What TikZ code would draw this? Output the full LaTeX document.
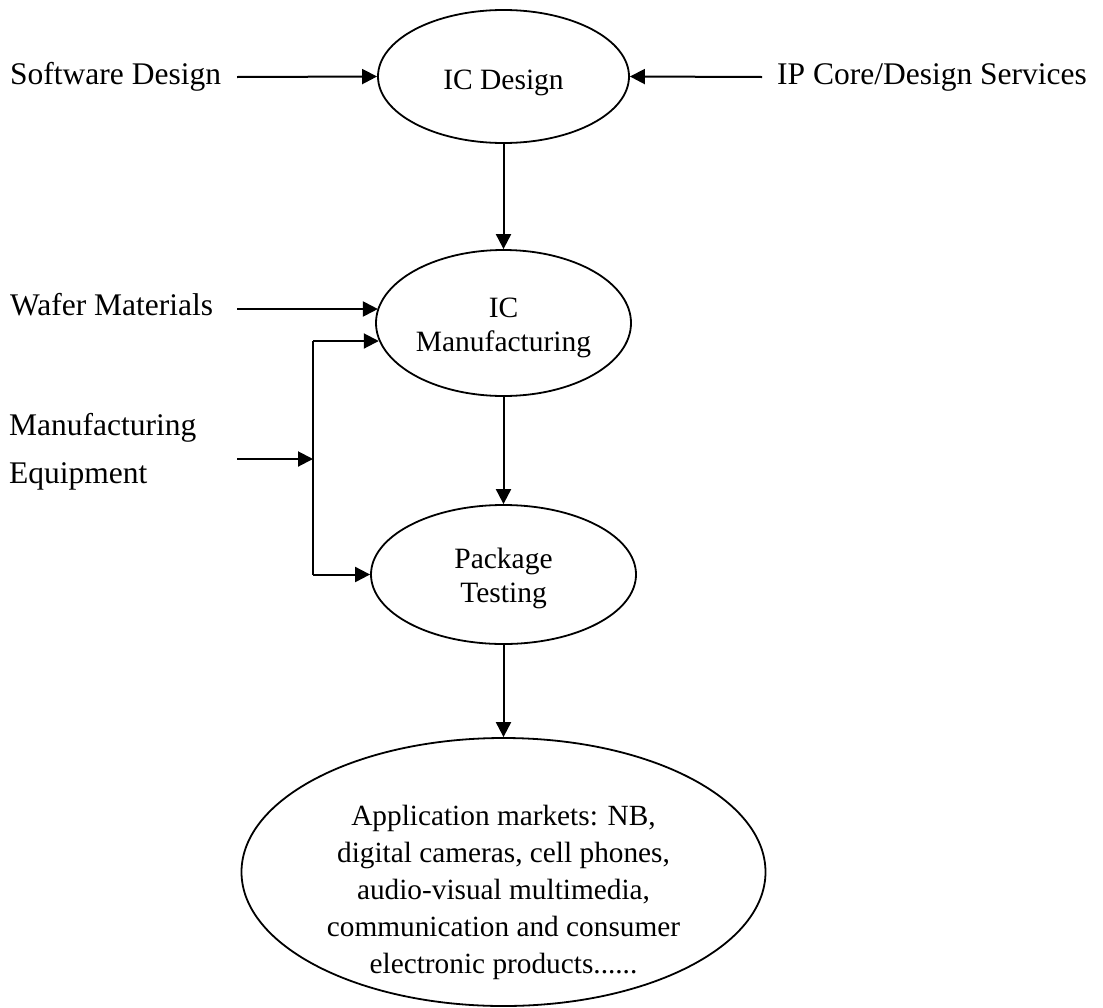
\documentclass[tikz,border=0pt]{standalone}
\usepackage{fontspec}
\setmainfont{Liberation Serif}
\usetikzlibrary{shapes.geometric,arrows.meta}
\pgfdeclarelayer{edgelayer}
\pgfdeclarelayer{nodelayer}
\pgfsetlayers{edgelayer,nodelayer,main}
\tikzstyle{stage}=[ellipse, draw=black, line width=1.800, inner sep=0]
\tikzstyle{stagetext}=[align=center, inner sep=0, font=\fontsize{29.5}{34}\selectfont]
\tikzstyle{source}=[anchor=base west, inner sep=0, align=left, font=\fontsize{31.5}{48}\selectfont]
\tikzstyle{flow}=[-{Triangle[length=15pt,width=15pt]}, draw=black, line width=2.000]
\tikzstyle{bus}=[-, draw=black, line width=2.000]

\begin{document}
\begin{tikzpicture}[x=1pt, y=-1pt]
            \useasboundingbox (0, 0) rectangle (1103, 1007);
            \begin{pgfonlayer}{nodelayer}
                \node [style=stage, minimum width=251, minimum height=133, label={[stagetext, yshift=-6.5pt]center:IC Design}] (icd) at (503.5, 76.5) {};
                \node [style=stage, minimum width=255, minimum height=146, label={[stagetext, yshift=-5pt]center:IC\\Manufacturing}] (icm) at (503.5, 323) {};
                \node [style=stage, minimum width=265, minimum height=139, label={[stagetext, yshift=-3.5pt]center:Package\\Testing}] (pkg) at (503.5, 574.5) {};
                \node [style=stage, minimum width=524, minimum height=268, label={[stagetext, font=\fontsize{29.3}{37}\selectfont, yshift=-20.5pt]center:Application markets: NB,\\digital cameras, cell phones,\\audio-visual multimedia,\\communication and consumer\\electronic products......}] (app) at (503.5, 872) {};

                \node [style=source] (sw) at (10, 84) {Software Design};
                \node [style=source] (ip) at (777, 84) {IP Core/Design Services};
                \node [style=source] (wm) at (10, 315) {Wafer Materials};
                \node [style=source] (me) at (9, 483) {Manufacturing\\Equipment};

                \coordinate (sw-out) at (237, 77);
                \coordinate (ip-out) at (762, 77);
                \coordinate (wm-out) at (237, 309);
                \coordinate (me-out) at (237, 459);
                \coordinate (bus-top) at (313, 341);
                \coordinate (bus-bot) at (313, 574.5);
            \end{pgfonlayer}
            \begin{pgfonlayer}{edgelayer}
                \draw [style=flow] (sw-out) to (icd.west);
                \draw [style=flow] (ip-out) to (icd.east);
                \draw [style=flow] (icd.south) to (icm.north);
                \draw [style=flow] (wm-out) to (wm-out -| icm.173.6);
                \draw [style=flow] (me-out) to (me-out -| bus-top);
                \draw [style=bus] (bus-top) to (bus-bot);
                \draw [style=flow] (bus-top) to (bus-top -| icm.188.3);
                \draw [style=flow] (bus-bot) to (pkg.west);
                \draw [style=flow] (icm.south) to (pkg.north);
                \draw [style=flow] (pkg.south) to (app.north);
            \end{pgfonlayer}
        \end{tikzpicture}
\end{document}
